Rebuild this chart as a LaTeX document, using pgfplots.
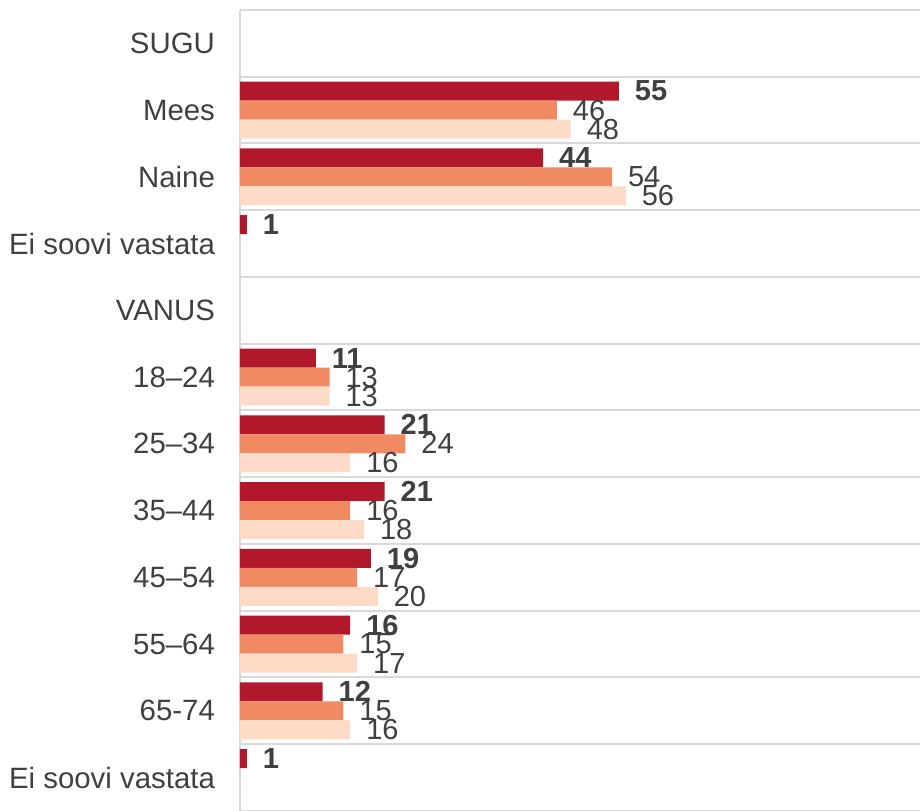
\documentclass[border=0pt]{standalone}
\usepackage{pgfplots}
\pgfplotsset{compat=1.18}
\usepackage{fontspec}
\setmainfont{Liberation Sans}
\definecolor{sred}{HTML}{B2182B}
\definecolor{sorange}{HTML}{EF8A62}
\definecolor{speach}{HTML}{FDDBC7}
\definecolor{txt}{HTML}{404040}
\definecolor{gridc}{HTML}{D9D9D9}

\begin{document}
\begin{tikzpicture}
\begin{axis}[
    name=ax,
    xbar,
    scale only axis,
    width=340pt, height=400.5pt,
    xmin=0, xmax=98.7,
    ymin=-0.5, ymax=11.5,
    y dir=reverse,
    bar width=9.5pt,
    axis x line=none,
    axis y line*=left,
    axis line style={draw=gridc, line width=1pt},
    ytick={0,...,11},
    yticklabels={SUGU, Mees, Naine, Ei soovi vastata, VANUS, 18–24, 25–34, 35–44, 45–54, 55–64, 65-74, Ei soovi vastata},
    major tick length=0pt,
    minor tick length=0pt,
    minor ytick={-0.5,0.5,...,11.5},
    yminorgrids,
    minor grid style={draw=gridc, line width=1pt},
    yticklabel style={font=\fontsize{14.7}{17}\selectfont, text=txt, xshift=-9pt},
    /pgf/number format/assume math mode=true,
    point meta=x,
    nodes near coords,
    every node near coord/.append style={font=\fontsize{14.5}{17}\selectfont, text=txt, anchor=west, xshift=4.5pt},
]
% series 1 (bold labels)
\addplot[fill=sred, draw=none, bar shift=9.5pt,
    every node near coord/.append style={font=\fontsize{14.5}{17}\selectfont\bfseries}]
    coordinates {(55,1) (44,2) (1,3) (11,5) (21,6) (21,7) (19,8) (16,9) (12,10) (1,11)};
% series 2
\addplot[fill=sorange, draw=none, bar shift=0pt]
    coordinates {(46,1) (54,2) (13,5) (24,6) (16,7) (17,8) (15,9) (15,10)};
% series 3
\addplot[fill=speach, draw=none, bar shift=-9.5pt]
    coordinates {(48,1) (56,2) (13,5) (16,6) (18,7) (20,8) (17,9) (16,10)};
\end{axis}
\pgfresetboundingbox
\path ([xshift=-120pt]ax.south west) rectangle ([yshift=5pt]ax.north east);
\end{tikzpicture}
\end{document}
